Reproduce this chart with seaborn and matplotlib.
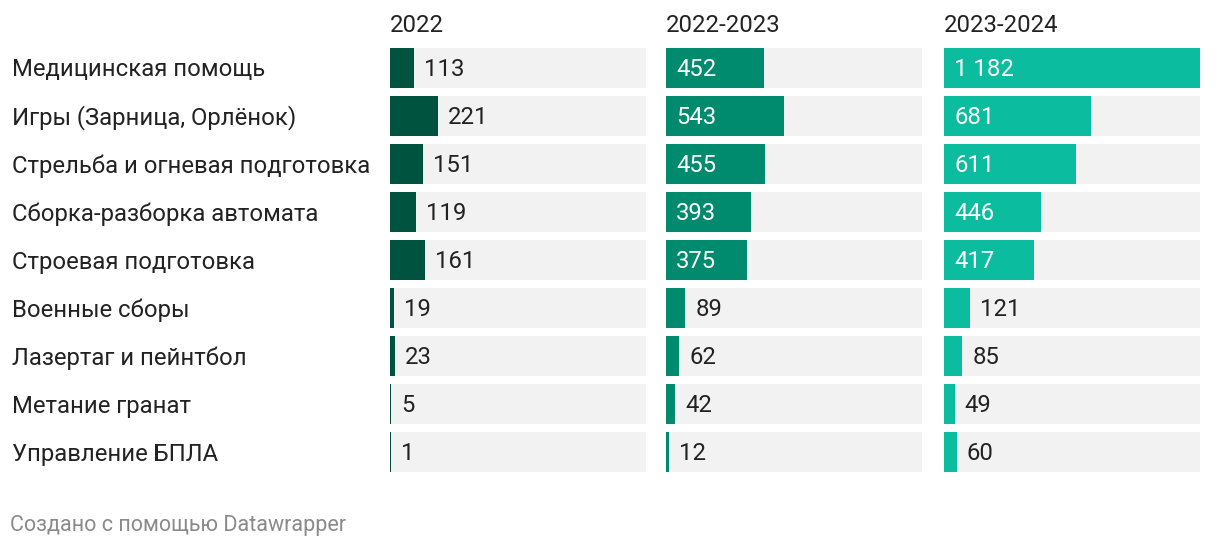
import matplotlib
matplotlib.use("Agg")
import matplotlib.pyplot as plt
import seaborn as sns
import pandas as pd

sns.set_theme(style="white")
plt.rcParams["font.family"] = ["Roboto", "DejaVu Sans"]

# ── Data ────────────────────────────────────────────────────
categories = ["Медицинская помощь", "Игры (Зарница, Орлёнок)",
              "Стрельба и огневая подготовка", "Сборка-разборка автомата",
              "Строевая подготовка", "Военные сборы", "Лазертаг и пейнтбол",
              "Метание гранат", "Управление БПЛА"]
periods = ["2022", "2022-2023", "2023-2024"]
v_2022 = [113, 221, 151, 119, 161, 19, 23, 5, 1]
v_2023 = [452, 543, 455, 393, 375, 89, 62, 42, 12]
v_2024 = [1182, 681, 611, 446, 417, 121, 85, 49, 60]
colors = ["#00533f", "#008a6e", "#0bbc9e"]

series = [v_2022, v_2023, v_2024]
vmax = max(max(s) for s in series)

W, H = 1220, 548
fig = plt.figure(figsize=(W / 100, H / 100), dpi=100)

panel_left = [390, 666, 944]
panel_w = 256
top, bottom = 44, 476
TXT = "#222222"
FS = 17.2
DY = 2  # px, nudge text down to match baseline

for i, (period, vals, col) in enumerate(zip(periods, series, colors)):
    ax = fig.add_axes([panel_left[i] / W, 1 - bottom / H,
                       panel_w / W, (bottom - top) / H])
    df = pd.DataFrame({"cat": categories, "val": vals,
                       "draw": [max(v, 6) for v in vals],
                       "bg": [vmax] * len(vals)})
    sns.barplot(data=df, x="bg", y="cat", orient="h", ax=ax,
                color="#f2f2f2", width=40 / 48, saturation=1, linewidth=0)
    sns.barplot(data=df, x="draw", y="cat", orient="h", ax=ax,
                color=col, width=40 / 48, saturation=1, linewidth=0)
    ax.set_xlim(0, vmax)
    ax.set_ylim(len(categories) - 0.5, -0.5)
    ax.axis("off")
    px = vmax / panel_w
    for j, v in enumerate(vals):
        txt = f"{v:,}".replace(",", " ")
        y = j + DY / 48
        if v > 300:
            ax.text(10 * px, y, txt, color="white", fontsize=FS,
                    va="center", ha="left")
        else:
            ax.text(max(v, 6) + 10 * px, y, txt, color=TXT, fontsize=FS,
                    va="center", ha="left")
    fig.text(panel_left[i] / W, 1 - (24 + DY) / H, period, color=TXT,
             fontsize=FS, va="center", ha="left")

for j, c in enumerate(categories):
    fig.text(12 / W, 1 - (68 + DY + 48 * j) / H, c, color=TXT, fontsize=FS,
             va="center", ha="left")

fig.text(10 / W, 1 - (524 + DY) / H, "Создано с помощью Datawrapper",
         color="#8a8a8a", fontsize=15.5, va="center", ha="left")

fig.savefig("out.png", dpi=100)
